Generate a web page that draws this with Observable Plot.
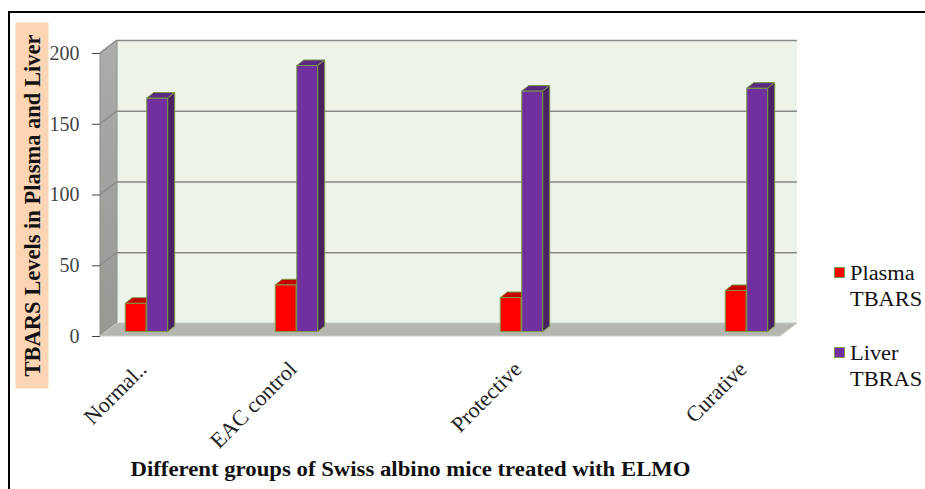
<!DOCTYPE html>
<html>
<head>
<meta charset="utf-8">
<script src="https://cdn.jsdelivr.net/npm/d3@7"></script>
<script src="https://cdn.jsdelivr.net/npm/@observablehq/plot@0.6"></script>
<style>
  body { margin: 0; background: #fff; }
  #wrap { position: relative; width: 925px; height: 489px; overflow: hidden; background: #fff; }
  #frame { position: absolute; left: 8px; top: 11px; width: 1000px; height: 1000px; border: 2.5px solid #000; }
  #chart { position: absolute; left: 0; top: 0; }
  #ytitle {
    position: absolute; left: -151.5px; top: 188.5px; width: 366px; height: 33px;
    transform: rotate(-90deg); background: #fcd5b4; color: #111;
    font-family: "Liberation Serif", serif; font-weight: bold; font-size: 22.5px;
    line-height: 33px; text-align: center; white-space: nowrap;
  }
  .legend-item { position: absolute; left: 834px; font-family: "Liberation Serif", serif; font-size: 20px; color: #111; }
  .legend-item .sw { position: absolute; left: 0; width: 9px; height: 9px; border: 1px solid #7f9a4a; }
  .legend-item .lbl { position: absolute; left: 16px; top: 0; line-height: 26px; white-space: nowrap;
    transform: scaleX(1.12); transform-origin: left top; }
</style>
</head>
<body>
<div id="wrap">
  <div id="frame"></div>
  <div id="chart"></div>
  <div id="ytitle">TBARS Levels in Plasma and Liver</div>
</div>
<script>
// Treatment groups and the two measured series
const groups = ["Normal..", "EAC control", "Protective", "Curative"];
const plasmaTBARS = [20, 33, 24, 29];
const liverTBRAS = [165, 188, 170, 172];
const seriesNames = ["Plasma TBARS", "Liver TBRAS"];
const seriesColors = ["#ff0000", "#7030a0"];
const yTicks = [0, 50, 100, 150, 200];
const xTitle = "Different groups of Swiss albino mice treated with ELMO";

// Category axis keeps empty slots between groups, as in the original worksheet
const slotDomain = ["Normal..", "_a", "EAC control", "_b", "_c", "Protective", "_d", "_e", "Curative"];

const W = 925, H = 489;
const ML = 100, MR = 145, MT = 53, MB = 153;
const WALL = {dx: 17, dy: -13};     // depth of the 3-D box
const SHIFT = {dx: 6, dy: -4.5};    // bars sit partway into the box
const FACE = {dx: 7, dy: -5.5};     // depth of each bar
const bandW = (W - ML - MR) / slotDomain.length;
const barW = 21.5;

const rows = groups.flatMap((g, i) => [
  {group: g, series: seriesNames[0], value: plasmaTBARS[i]},
  {group: g, series: seriesNames[1], value: liverTBRAS[i]}
]);

const font = '"Liberation Serif", "Times New Roman", serif';

const chart = Plot.plot({
  width: W, height: H,
  marginLeft: ML, marginRight: MR, marginTop: MT, marginBottom: MB,
  style: {fontFamily: font, background: "transparent", overflow: "visible"},
  x: {type: "band", domain: slotDomain, padding: 0, axis: null},
  y: {domain: [0, 200], axis: null},
  marks: [
    Plot.ruleY(yTicks.filter(d => d > 0), {dx: WALL.dx, dy: WALL.dy, stroke: "#8a8a8a", strokeWidth: 1.5}),
    Plot.axisY({ticks: yTicks, tickSize: 8, tickPadding: 13, fontSize: 20, fontFamily: font, color: "#444", label: null}),
    Plot.barY(rows.filter(d => d.series === seriesNames[0]), {
      x: "group", y: "value", fill: seriesColors[0], stroke: "#7c9a45", strokeWidth: 1,
      insetLeft: bandW / 2 - barW, insetRight: bandW / 2, dx: SHIFT.dx, dy: SHIFT.dy,
      ariaDescription: "bars-0"
    }),
    Plot.barY(rows.filter(d => d.series === seriesNames[1]), {
      x: "group", y: "value", fill: seriesColors[1], stroke: "#7c9a45", strokeWidth: 1,
      insetLeft: bandW / 2, insetRight: bandW / 2 - barW, dx: SHIFT.dx, dy: SHIFT.dy,
      ariaDescription: "bars-1"
    }),
    Plot.text(groups, {
      x: d => d, frameAnchor: "bottom", rotate: -45, textAnchor: "end",
      dx: 7, dy: 34, fontSize: 22, fontFamily: font, fill: "#222"
    }),
    Plot.text([xTitle], {
      frameAnchor: "bottom", dx: -30, dy: 139, fontSize: 20, fontWeight: "bold",
      fontFamily: font, fill: "#111", ariaDescription: "x-title"
    })
  ]
});

document.getElementById("chart").appendChild(chart);
const svg = d3.select(chart);

// The axis title is set a little wider, like the stretched original
svg.selectAll('g[aria-description="x-title"] text')
  .attr("textLength", 560).attr("lengthAdjust", "spacingAndGlyphs");

// 3-D box: side wall, floor and back wall drawn behind the marks
const xs = chart.scale("x"), ys = chart.scale("y");
const [x0, x1] = xs.range;
const yb = ys.apply(0), yt = ys.apply(200);
const pts = a => a.map(p => p.join(",")).join(" ");

const defs = svg.insert("defs", ":first-child");
const grad = defs.append("linearGradient").attr("id", "sidewall").attr("x1", 0).attr("y1", 0).attr("x2", 0).attr("y2", 1);
grad.append("stop").attr("offset", "0%").attr("stop-color", "#acacaa");
grad.append("stop").attr("offset", "100%").attr("stop-color", "#979794");

const walls = svg.insert("g", "g[aria-label]").attr("aria-label", "walls");
walls.append("rect")
  .attr("x", x0 + WALL.dx).attr("y", yt + WALL.dy)
  .attr("width", x1 - x0).attr("height", yb - yt)
  .attr("fill", "#eef3ea");
walls.append("polygon")
  .attr("points", pts([[x0, yt], [x0 + WALL.dx, yt + WALL.dy], [x0 + WALL.dx, yb + WALL.dy], [x0, yb]]))
  .attr("fill", "url(#sidewall)").attr("stroke", "#8e8e8b").attr("stroke-width", 1);
walls.append("polygon")
  .attr("points", pts([[x0, yb], [x0 + WALL.dx, yb + WALL.dy], [x1 + WALL.dx, yb + WALL.dy], [x1, yb]]))
  .attr("fill", "#b5b6b0").attr("stroke", "#c9c9c6").attr("stroke-width", 1);
for (const t of yTicks.filter(d => d > 0)) {
  walls.append("line")
    .attr("x1", x0).attr("y1", ys.apply(t))
    .attr("x2", x0 + WALL.dx).attr("y2", ys.apply(t) + WALL.dy)
    .attr("stroke", "#8a8a8a").attr("stroke-width", 1.5);
}

// Top and side faces of every bar, built from the front faces Plot drew
const faceColors = [
  {top: "#c40000", side: "#a30000"},
  {top: "#5a2a82", side: "#4a2163"}
];
const SVGNS = "http://www.w3.org/2000/svg";
faceColors.forEach((c, i) => {
  svg.selectAll(`g[aria-description="bars-${i}"] rect`).each(function() {
    const x = +this.getAttribute("x"), y = +this.getAttribute("y");
    const w = +this.getAttribute("width"), h = +this.getAttribute("height");
    const faces = [
      [c.top, [[x, y], [x + w, y], [x + w + FACE.dx, y + FACE.dy], [x + FACE.dx, y + FACE.dy]]],
      [c.side, [[x + w, y], [x + w + FACE.dx, y + FACE.dy], [x + w + FACE.dx, y + h + FACE.dy], [x + w, y + h]]]
    ];
    for (const [fill, p] of faces) {
      const poly = document.createElementNS(SVGNS, "polygon");
      poly.setAttribute("points", pts(p));
      poly.setAttribute("fill", fill);
      poly.setAttribute("stroke", "#7c9a45");
      poly.setAttribute("stroke-width", 1);
      this.parentNode.appendChild(poly);
    }
  });
});

// Legend
const wrap = document.getElementById("wrap");
const legendTops = [260, 340];
seriesNames.forEach((name, i) => {
  const item = document.createElement("div");
  item.className = "legend-item";
  item.style.top = legendTops[i] + "px";
  const sw = document.createElement("div");
  sw.className = "sw";
  sw.style.top = "7px";
  sw.style.background = seriesColors[i];
  const lbl = document.createElement("div");
  lbl.className = "lbl";
  lbl.innerHTML = name.split(" ").join("<br>");
  item.appendChild(sw);
  item.appendChild(lbl);
  wrap.appendChild(item);
});
</script>
</body>
</html>
